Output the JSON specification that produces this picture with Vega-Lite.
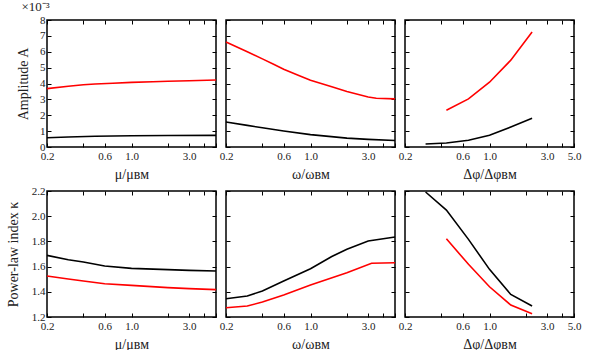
{
  "$schema": "https://vega.github.io/schema/vega-lite/v6.json",
  "autosize": {"type": "pad"},
  "padding": {"left": 5, "top": 0, "right": 0, "bottom": 0},
  "background": "white",
  "bounds": "flush",
  "columns": 3,
  "spacing": {"row": 44, "column": 10},
  "config": {
    "font": "Liberation Serif",
    "view": {"stroke": "black", "strokeWidth": 1.5},
    "axis": {
      "domain": false, "grid": false, "ticks": true, "tickSize": -4, "tickColor": "black", "tickWidth": 1,
      "labelFont": "Liberation Serif", "labelFontSize": 11, "labelColor": "#222", "labelPadding": 7,
      "labelOverlap": false, "labelFlush": false,
      "titleFont": "Liberation Serif", "titleFontSize": 14, "titleFontWeight": "normal", "titleColor": "#222"
    },
    "axisX": {"titlePadding": 6},
    "axisY": {"labelPadding": 6},
    "line": {"strokeWidth": 1.6}
  },
  "datasets": {
    "p1": [
      {"x": 0.2, "y": 3.68, "s": "red"}, {"x": 0.3, "y": 3.83, "s": "red"}, {"x": 0.4, "y": 3.92, "s": "red"},
      {"x": 0.5, "y": 3.97, "s": "red"}, {"x": 0.7, "y": 4.02, "s": "red"}, {"x": 1.0, "y": 4.07, "s": "red"},
      {"x": 1.5, "y": 4.11, "s": "red"}, {"x": 2.0, "y": 4.14, "s": "red"}, {"x": 3.0, "y": 4.17, "s": "red"},
      {"x": 5.0, "y": 4.22, "s": "red"},
      {"x": 0.2, "y": 0.58, "s": "black"}, {"x": 0.3, "y": 0.63, "s": "black"}, {"x": 0.5, "y": 0.68, "s": "black"},
      {"x": 1.0, "y": 0.71, "s": "black"}, {"x": 2.0, "y": 0.72, "s": "black"}, {"x": 5.0, "y": 0.73, "s": "black"}
    ],
    "p2": [
      {"x": 0.2, "y": 6.62, "s": "red"}, {"x": 0.3, "y": 6.0, "s": "red"}, {"x": 0.4, "y": 5.55, "s": "red"},
      {"x": 0.5, "y": 5.2, "s": "red"}, {"x": 0.6, "y": 4.9, "s": "red"}, {"x": 0.8, "y": 4.5, "s": "red"},
      {"x": 1.0, "y": 4.2, "s": "red"}, {"x": 1.5, "y": 3.8, "s": "red"}, {"x": 2.0, "y": 3.5, "s": "red"},
      {"x": 3.0, "y": 3.15, "s": "red"}, {"x": 3.5, "y": 3.07, "s": "red"}, {"x": 5.0, "y": 3.03, "s": "red"},
      {"x": 0.2, "y": 1.57, "s": "black"}, {"x": 0.3, "y": 1.36, "s": "black"}, {"x": 0.4, "y": 1.21, "s": "black"},
      {"x": 0.6, "y": 1.01, "s": "black"}, {"x": 1.0, "y": 0.78, "s": "black"}, {"x": 2.0, "y": 0.56, "s": "black"},
      {"x": 3.0, "y": 0.48, "s": "black"}, {"x": 5.0, "y": 0.41, "s": "black"}
    ],
    "p3": [
      {"x": 0.44, "y": 2.32, "s": "red"}, {"x": 0.67, "y": 3.03, "s": "red"}, {"x": 1.0, "y": 4.08, "s": "red"},
      {"x": 1.5, "y": 5.47, "s": "red"}, {"x": 2.25, "y": 7.24, "s": "red"},
      {"x": 0.296, "y": 0.19, "s": "black"}, {"x": 0.44, "y": 0.25, "s": "black"}, {"x": 0.67, "y": 0.42, "s": "black"},
      {"x": 1.0, "y": 0.74, "s": "black"}, {"x": 1.5, "y": 1.26, "s": "black"}, {"x": 2.25, "y": 1.81, "s": "black"}
    ],
    "p4": [
      {"x": 0.2, "y": 1.689, "s": "black"}, {"x": 0.3, "y": 1.655, "s": "black"}, {"x": 0.4, "y": 1.636, "s": "black"},
      {"x": 0.6, "y": 1.605, "s": "black"}, {"x": 1.0, "y": 1.586, "s": "black"}, {"x": 2.0, "y": 1.576, "s": "black"},
      {"x": 3.0, "y": 1.570, "s": "black"}, {"x": 5.0, "y": 1.565, "s": "black"},
      {"x": 0.2, "y": 1.525, "s": "red"}, {"x": 0.3, "y": 1.502, "s": "red"}, {"x": 0.4, "y": 1.486, "s": "red"},
      {"x": 0.6, "y": 1.464, "s": "red"}, {"x": 1.0, "y": 1.451, "s": "red"}, {"x": 2.0, "y": 1.433, "s": "red"},
      {"x": 3.0, "y": 1.425, "s": "red"}, {"x": 5.0, "y": 1.417, "s": "red"}
    ],
    "p5": [
      {"x": 0.2, "y": 1.345, "s": "black"}, {"x": 0.3, "y": 1.367, "s": "black"}, {"x": 0.4, "y": 1.406, "s": "black"},
      {"x": 0.6, "y": 1.486, "s": "black"}, {"x": 1.0, "y": 1.583, "s": "black"}, {"x": 1.5, "y": 1.68, "s": "black"},
      {"x": 2.0, "y": 1.737, "s": "black"}, {"x": 3.0, "y": 1.803, "s": "black"}, {"x": 5.0, "y": 1.835, "s": "black"},
      {"x": 0.2, "y": 1.274, "s": "red"}, {"x": 0.3, "y": 1.287, "s": "red"}, {"x": 0.4, "y": 1.319, "s": "red"},
      {"x": 0.6, "y": 1.375, "s": "red"}, {"x": 1.0, "y": 1.454, "s": "red"}, {"x": 2.0, "y": 1.552, "s": "red"},
      {"x": 3.2, "y": 1.626, "s": "red"}, {"x": 5.0, "y": 1.631, "s": "red"}
    ],
    "p6": [
      {"x": 0.296, "y": 2.192, "s": "black"}, {"x": 0.44, "y": 2.049, "s": "black"}, {"x": 0.67, "y": 1.816, "s": "black"},
      {"x": 1.0, "y": 1.578, "s": "black"}, {"x": 1.5, "y": 1.379, "s": "black"}, {"x": 2.25, "y": 1.287, "s": "black"},
      {"x": 0.44, "y": 1.821, "s": "red"}, {"x": 0.67, "y": 1.618, "s": "red"}, {"x": 1.0, "y": 1.44, "s": "red"},
      {"x": 1.5, "y": 1.295, "s": "red"}, {"x": 2.25, "y": 1.226, "s": "red"}
    ]
  },
  "concat": [
    {
      "width": 169, "height": 127,
      "title": {"text": "×10⁻³", "anchor": "start", "fontSize": 13, "fontWeight": "normal", "font": "Liberation Serif", "offset": 0, "dx": 5, "color": "#222"},
      "data": {"name": "p1"},
      "layer": [
        {"mark": "line", "encoding": {
          "x": {"field": "x", "type": "quantitative", "scale": {"type": "log", "domain": [0.2, 5], "nice": false},
            "axis": {"title": "μ/μʙᴍ", "values": [0.2, 0.4, 0.6, 1, 2, 3, 4, 5], "labelExpr": "(datum.value==0.2||datum.value==0.6||datum.value==1||datum.value==3) ? format(datum.value,'.1f') : ''"}},
          "y": {"field": "y", "type": "quantitative", "scale": {"domain": [0, 8], "nice": false}, "axis": {"title": "Amplitude A", "values": [0,1,2,3,4,5,6,7,8], "format": "d", "titlePadding": 9}},
          "color": {"field": "s", "type": "nominal", "scale": {"domain": ["black", "red"], "range": ["#000000", "#ff0000"]}, "legend": null}
        }},
        {"mark": {"type": "line", "opacity": 0}, "encoding": {
          "x": {"field": "x", "type": "quantitative", "axis": {"orient": "top", "labels": false, "title": null, "values": [0.2, 0.4, 0.6, 1, 2, 3, 4, 5]}},
          "y": {"field": "y", "type": "quantitative", "axis": {"orient": "right", "labels": false, "title": null, "values": [0,1,2,3,4,5,6,7,8]}},
          "detail": {"field": "s"}
        }}
      ],
      "resolve": {"axis": {"x": "independent", "y": "independent"}}
    },
    {
      "width": 169, "height": 127,
      "data": {"name": "p2"},
      "layer": [
        {"mark": "line", "encoding": {
          "x": {"field": "x", "type": "quantitative", "scale": {"type": "log", "domain": [0.2, 5], "nice": false},
            "axis": {"title": "ω/ωʙᴍ", "values": [0.2, 0.4, 0.6, 1, 2, 3, 4, 5], "labelExpr": "(datum.value==0.2||datum.value==0.6||datum.value==1||datum.value==3) ? format(datum.value,'.1f') : ''"}},
          "y": {"field": "y", "type": "quantitative", "scale": {"domain": [0, 8], "nice": false}, "axis": {"title": null, "labels": false, "values": [0,1,2,3,4,5,6,7,8]}},
          "color": {"field": "s", "type": "nominal", "scale": {"domain": ["black", "red"], "range": ["#000000", "#ff0000"]}, "legend": null}
        }},
        {"mark": {"type": "line", "opacity": 0}, "encoding": {
          "x": {"field": "x", "type": "quantitative", "axis": {"orient": "top", "labels": false, "title": null, "values": [0.2, 0.4, 0.6, 1, 2, 3, 4, 5]}},
          "y": {"field": "y", "type": "quantitative", "axis": {"orient": "right", "labels": false, "title": null, "values": [0,1,2,3,4,5,6,7,8]}},
          "detail": {"field": "s"}
        }}
      ],
      "resolve": {"axis": {"x": "independent", "y": "independent"}}
    },
    {
      "width": 169, "height": 127,
      "data": {"name": "p3"},
      "layer": [
        {"mark": "line", "encoding": {
          "x": {"field": "x", "type": "quantitative", "scale": {"type": "log", "domain": [0.2, 5], "nice": false},
            "axis": {"title": "Δφ/Δφʙᴍ", "values": [0.2, 0.4, 0.6, 1, 2, 3, 4, 5], "labelExpr": "(datum.value==0.2||datum.value==0.6||datum.value==1||datum.value==3||datum.value==5) ? format(datum.value,'.1f') : ''"}},
          "y": {"field": "y", "type": "quantitative", "scale": {"domain": [0, 8], "nice": false}, "axis": {"title": null, "labels": false, "values": [0,1,2,3,4,5,6,7,8]}},
          "color": {"field": "s", "type": "nominal", "scale": {"domain": ["black", "red"], "range": ["#000000", "#ff0000"]}, "legend": null}
        }},
        {"mark": {"type": "line", "opacity": 0}, "encoding": {
          "x": {"field": "x", "type": "quantitative", "axis": {"orient": "top", "labels": false, "title": null, "values": [0.2, 0.4, 0.6, 1, 2, 3, 4, 5]}},
          "y": {"field": "y", "type": "quantitative", "axis": {"orient": "right", "labels": false, "title": null, "values": [0,1,2,3,4,5,6,7,8]}},
          "detail": {"field": "s"}
        }}
      ],
      "resolve": {"axis": {"x": "independent", "y": "independent"}}
    },
    {
      "width": 169, "height": 126,
      "data": {"name": "p4"},
      "layer": [
        {"mark": "line", "encoding": {
          "x": {"field": "x", "type": "quantitative", "scale": {"type": "log", "domain": [0.2, 5], "nice": false},
            "axis": {"title": "μ/μʙᴍ", "values": [0.2, 0.4, 0.6, 1, 2, 3, 4, 5], "labelExpr": "(datum.value==0.2||datum.value==0.6||datum.value==1||datum.value==3) ? format(datum.value,'.1f') : ''"}},
          "y": {"field": "y", "type": "quantitative", "scale": {"domain": [1.2, 2.2], "nice": false, "zero": false}, "axis": {"title": "Power-law index κ", "values": [1.2,1.4,1.6,1.8,2.0,2.2], "format": ".1f", "titlePadding": 11}},
          "color": {"field": "s", "type": "nominal", "scale": {"domain": ["black", "red"], "range": ["#000000", "#ff0000"]}, "legend": null}
        }},
        {"mark": {"type": "line", "opacity": 0}, "encoding": {
          "x": {"field": "x", "type": "quantitative", "axis": {"orient": "top", "labels": false, "title": null, "values": [0.2, 0.4, 0.6, 1, 2, 3, 4, 5]}},
          "y": {"field": "y", "type": "quantitative", "axis": {"orient": "right", "labels": false, "title": null, "values": [1.2,1.4,1.6,1.8,2.0,2.2]}},
          "detail": {"field": "s"}
        }}
      ],
      "resolve": {"axis": {"x": "independent", "y": "independent"}}
    },
    {
      "width": 169, "height": 126,
      "data": {"name": "p5"},
      "layer": [
        {"mark": "line", "encoding": {
          "x": {"field": "x", "type": "quantitative", "scale": {"type": "log", "domain": [0.2, 5], "nice": false},
            "axis": {"title": "ω/ωʙᴍ", "values": [0.2, 0.4, 0.6, 1, 2, 3, 4, 5], "labelExpr": "(datum.value==0.2||datum.value==0.6||datum.value==1||datum.value==3) ? format(datum.value,'.1f') : ''"}},
          "y": {"field": "y", "type": "quantitative", "scale": {"domain": [1.2, 2.2], "nice": false, "zero": false}, "axis": {"title": null, "labels": false, "values": [1.2,1.4,1.6,1.8,2.0,2.2]}},
          "color": {"field": "s", "type": "nominal", "scale": {"domain": ["black", "red"], "range": ["#000000", "#ff0000"]}, "legend": null}
        }},
        {"mark": {"type": "line", "opacity": 0}, "encoding": {
          "x": {"field": "x", "type": "quantitative", "axis": {"orient": "top", "labels": false, "title": null, "values": [0.2, 0.4, 0.6, 1, 2, 3, 4, 5]}},
          "y": {"field": "y", "type": "quantitative", "axis": {"orient": "right", "labels": false, "title": null, "values": [1.2,1.4,1.6,1.8,2.0,2.2]}},
          "detail": {"field": "s"}
        }}
      ],
      "resolve": {"axis": {"x": "independent", "y": "independent"}}
    },
    {
      "width": 169, "height": 126,
      "data": {"name": "p6"},
      "layer": [
        {"mark": "line", "encoding": {
          "x": {"field": "x", "type": "quantitative", "scale": {"type": "log", "domain": [0.2, 5], "nice": false},
            "axis": {"title": "Δφ/Δφʙᴍ", "values": [0.2, 0.4, 0.6, 1, 2, 3, 4, 5], "labelExpr": "(datum.value==0.2||datum.value==0.6||datum.value==1||datum.value==3||datum.value==5) ? format(datum.value,'.1f') : ''"}},
          "y": {"field": "y", "type": "quantitative", "scale": {"domain": [1.2, 2.2], "nice": false, "zero": false}, "axis": {"title": null, "labels": false, "values": [1.2,1.4,1.6,1.8,2.0,2.2]}},
          "color": {"field": "s", "type": "nominal", "scale": {"domain": ["black", "red"], "range": ["#000000", "#ff0000"]}, "legend": null}
        }},
        {"mark": {"type": "line", "opacity": 0}, "encoding": {
          "x": {"field": "x", "type": "quantitative", "axis": {"orient": "top", "labels": false, "title": null, "values": [0.2, 0.4, 0.6, 1, 2, 3, 4, 5]}},
          "y": {"field": "y", "type": "quantitative", "axis": {"orient": "right", "labels": false, "title": null, "values": [1.2,1.4,1.6,1.8,2.0,2.2]}},
          "detail": {"field": "s"}
        }}
      ],
      "resolve": {"axis": {"x": "independent", "y": "independent"}}
    }
  ]
}
